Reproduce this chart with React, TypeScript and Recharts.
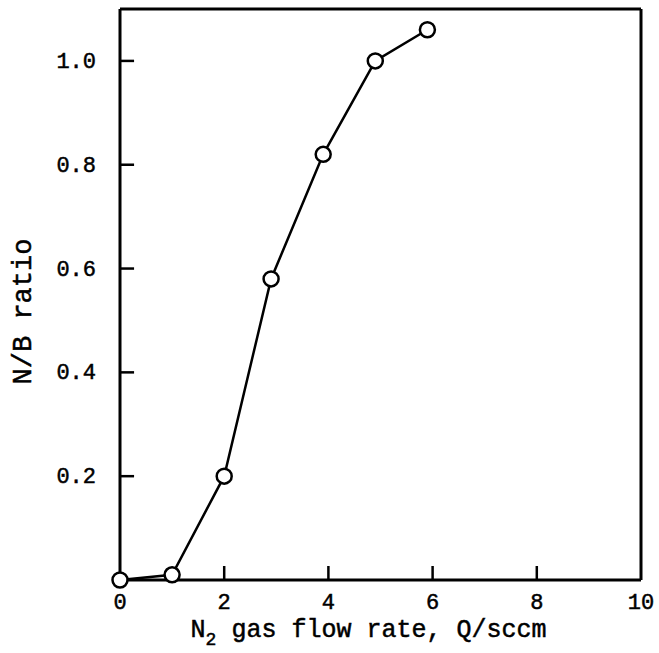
import { LineChart, Line, XAxis, YAxis, ReferenceLine } from "recharts";

const flowRate = [0, 1, 2, 2.9, 3.9, 4.9, 5.9];
const nbRatio = [0, 0.01, 0.2, 0.58, 0.82, 1.0, 1.06];
const xTicks = [0, 2, 4, 6, 8, 10];
const yTicks = [0.2, 0.4, 0.6, 0.8, 1.0];
const X_MAX = 10;
const Y_MAX = 1.1;
// inward tick length, in axis units (about 14px each way)
const X_TICK_LEN = 0.027;
const Y_TICK_LEN = 0.27;

const data = flowRate.map((q, i) => ({ q, ratio: nbRatio[i] }));

const FONT = "'Liberation Mono', 'Courier New', monospace";
const textStyle = { fontFamily: FONT, fill: "#000", stroke: "#000", strokeWidth: 0.5 };
const frameLine = { stroke: "#000", strokeWidth: 3 };

function XTick({ x, y, payload }: any) {
  return (
    <text x={x} y={y + 29} textAnchor="middle" fontSize={22} {...textStyle}>
      {payload.value}
    </text>
  );
}

function YTick({ x, y, payload }: any) {
  return (
    <text x={x - 24} y={y + 7} textAnchor="end" fontSize={22} {...textStyle}>
      {Number(payload.value).toFixed(1)}
    </text>
  );
}

function XTitle({ viewBox }: any) {
  const cx = viewBox.x + viewBox.width / 2;
  return (
    <text x={cx - 12} y={637} textAnchor="middle" fontSize={25} {...textStyle}>
      N<tspan fontSize={18} dy={8}>2</tspan>
      <tspan dy={-8}> gas flow rate, Q/sccm</tspan>
    </text>
  );
}

function YTitle({ viewBox }: any) {
  const x = 31;
  const y = viewBox.y + viewBox.height / 2 + 17;
  return (
    <text x={x} y={y} transform={`rotate(-90, ${x}, ${y})`} textAnchor="middle" fontSize={27} {...textStyle}>
      N/B ratio
    </text>
  );
}

export default function App() {
  return (
    <div style={{ position: "absolute", left: 0, top: 0, background: "#fff", width: 659, height: 653 }}>
      <LineChart width={659} height={653} data={data} margin={{ top: 9, right: 18, bottom: 13, left: 40 }}>
        <XAxis
          dataKey="q"
          type="number"
          domain={[0, X_MAX]}
          ticks={xTicks}
          interval={0}
          height={60}
          tickSize={0}
          tickMargin={0}
          tickLine={false}
          axisLine={frameLine}
          tick={<XTick />}
          label={<XTitle />}
        />
        <YAxis
          type="number"
          domain={[0, Y_MAX]}
          ticks={yTicks}
          interval={0}
          width={80}
          tickSize={0}
          tickMargin={0}
          tickLine={false}
          axisLine={frameLine}
          tick={<YTick />}
          label={<YTitle />}
        />
        {/* top and right edges of the box */}
        <ReferenceLine y={Y_MAX} stroke="#000" strokeWidth={3} ifOverflow="visible" />
        <ReferenceLine x={X_MAX} stroke="#000" strokeWidth={3} ifOverflow="visible" />
        {/* inward tick marks */}
        {xTicks.slice(1, -1).map((v) => (
          <ReferenceLine
            key={`xt${v}`}
            segment={[{ x: v, y: 0 }, { x: v, y: X_TICK_LEN }]}
            stroke="#000"
            strokeWidth={2.5}
            ifOverflow="visible"
          />
        ))}
        {yTicks.map((v) => (
          <ReferenceLine
            key={`yt${v}`}
            segment={[{ x: 0, y: v }, { x: Y_TICK_LEN, y: v }]}
            stroke="#000"
            strokeWidth={2.5}
            ifOverflow="visible"
          />
        ))}
        <Line
          dataKey="ratio"
          type="linear"
          stroke="#000"
          strokeWidth={2.5}
          dot={{ r: 7.5, fill: "#fff", stroke: "#000", strokeWidth: 2.5 }}
          isAnimationActive={false}
        />
      </LineChart>
    </div>
  );
}
